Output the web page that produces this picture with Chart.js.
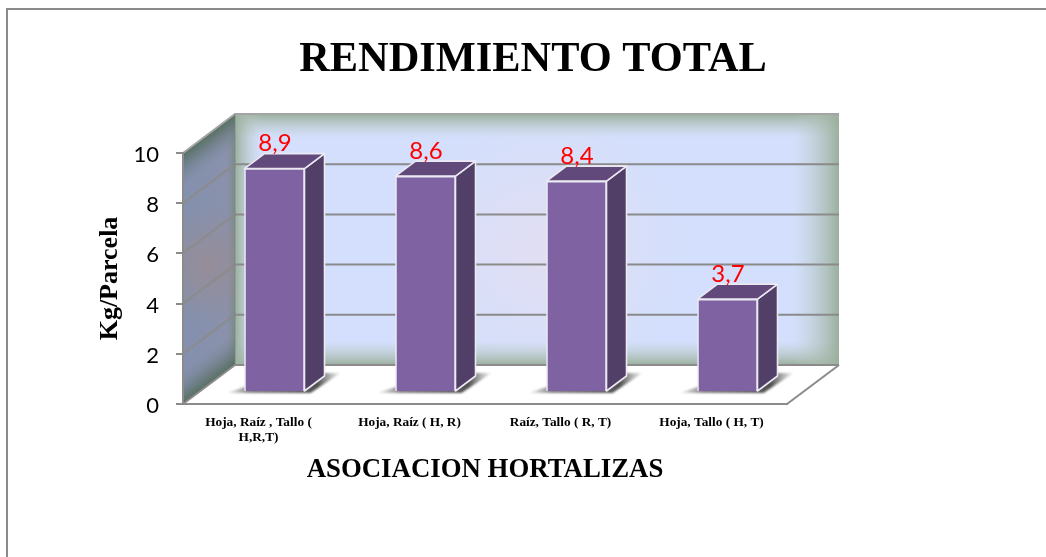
<!DOCTYPE html>
<html><head><meta charset="utf-8">
<style>html,body{margin:0;padding:0;background:#fff}canvas{display:block}</style>
<script src="https://cdn.jsdelivr.net/npm/chart.js@4/dist/chart.umd.js"></script>
</head><body>
<canvas id="c" width="1046" height="557"></canvas>
<script>
const categories = [['Hoja, Raíz , Tallo (', 'H,R,T)'], 'Hoja, Raíz ( H, R)', 'Raíz, Tallo ( R, T)', 'Hoja, Tallo ( H, T)'];
const values = [8.9, 8.6, 8.4, 3.7];
const yTicks = [0, 2, 4, 6, 8, 10];
const titleText = 'RENDIMIENTO TOTAL';
const xTitle = 'ASOCIACION HORTALIZAS';
const yTitle = 'Kg/Parcela';

const WALL = {dx: 52, dy: -39};
const BAR = {sx: 16, sy: -12, dx: 20, dy: -15};
const GRID = '#8b8b8b';

function poly(ctx, pts){ ctx.beginPath(); pts.forEach((p,i)=> i?ctx.lineTo(p[0],p[1]):ctx.moveTo(p[0],p[1])); ctx.closePath(); }
function lin(ctx,x0,y0,x1,y1,stops){ const g=ctx.createLinearGradient(x0,y0,x1,y1); stops.forEach(s=>g.addColorStop(s[0],s[1])); return g; }

const scene = {
  id:'scene',
  afterLayout(chart){
    const t = chart.titleBlock; t.left = 20; t.right = 1046;
  },
  beforeDraw(chart){
    const ctx = chart.ctx, a = chart.chartArea, ys = chart.scales.y;
    const L=a.left,R=a.right,T=a.top,B=a.bottom,dx=WALL.dx,dy=WALL.dy;
    ctx.save();
    ctx.fillStyle='#fff'; ctx.fillRect(0,0,1046,557);
    // page frame
    ctx.strokeStyle='#8a8a8a'; ctx.lineWidth=2;
    ctx.beginPath(); ctx.moveTo(7,557); ctx.lineTo(7,9); ctx.lineTo(1046,9); ctx.stroke();
    // back wall
    const bl=L+dx, br=R+dx, bt=T+dy, bb=B+dy;
    ctx.fillStyle='#d3dffc'; ctx.fillRect(bl,bt,br-bl,bb-bt);
    let rg=ctx.createRadialGradient(545,250,10,545,250,140);
    rg.addColorStop(0,'rgba(232,222,238,0.65)'); rg.addColorStop(1,'rgba(232,222,238,0)');
    ctx.fillStyle=rg; ctx.fillRect(bl,bt,br-bl,bb-bt);
    const edge='rgba(155,176,158,1)', clear='rgba(190,205,200,0)';
    ctx.fillStyle=lin(ctx,0,bt,0,bt+24,[[0,edge],[1,clear]]); ctx.fillRect(bl,bt,br-bl,24);
    ctx.fillStyle=lin(ctx,0,bb,0,bb-24,[[0,edge],[1,clear]]); ctx.fillRect(bl,bb-24,br-bl,24);
    ctx.fillStyle=lin(ctx,br,0,br-46,0,[[0,edge],[1,clear]]); ctx.fillRect(br-46,bt,46,bb-bt);
    ctx.fillStyle=lin(ctx,bl,0,bl+26,0,[[0,edge],[1,clear]]); ctx.fillRect(bl,bt,26,bb-bt);
    // side wall, painted in its own sheared coordinates
    ctx.save();
    poly(ctx,[[L,T],[bl,bt],[bl,bb],[L,B]]); ctx.clip();
    ctx.fillStyle=lin(ctx,L,0,bl,0,[[0,'#8390ae'],[0.85,'#8a91ab'],[1,'#7c8b8c']]); ctx.fillRect(L,bt,dx,B-bt);
    let rg2=ctx.createRadialGradient(207,265,4,207,265,58);
    rg2.addColorStop(0,'rgba(155,140,145,0.7)'); rg2.addColorStop(1,'rgba(155,140,145,0)');
    ctx.fillStyle=rg2; ctx.fillRect(L,bt,dx,B-bt);
    ctx.transform(1,dy/dx,0,1,L,T);
    const h=B-T;
    ctx.fillStyle=lin(ctx,0,0,0,34,[[0,'rgba(88,112,98,1)'],[0.35,'rgba(95,115,110,.6)'],[1,'rgba(120,135,150,0)']]);
    ctx.fillRect(0,0,dx,34);
    ctx.fillStyle=lin(ctx,0,h-34,0,h,[[0,'rgba(120,135,150,0)'],[0.65,'rgba(95,115,110,.6)'],[1,'rgba(88,112,98,1)']]);
    ctx.fillRect(0,h-34,dx,34);
    ctx.restore();
    // floor
    ctx.fillStyle='#fff'; poly(ctx,[[L,B],[bl,bb],[br,bb],[R,B]]); ctx.fill();
    // gridlines drawn from the library's y scale
    ctx.lineWidth=2;
    ys.ticks.forEach(t=>{
      const y=ys.getPixelForValue(t.value);
      ctx.strokeStyle = t.value===10 ? '#a4a4a4' : GRID;
      ctx.beginPath(); ctx.moveTo(L,y); ctx.lineTo(bl,y+dy); ctx.lineTo(br,y+dy); ctx.stroke();
    });
    ctx.strokeStyle=GRID;
    ctx.beginPath(); ctx.moveTo(R,B); ctx.lineTo(br,bb); ctx.stroke();
    ctx.beginPath(); ctx.moveTo(bl,bt); ctx.lineTo(bl,bb); ctx.strokeStyle='rgba(120,130,125,.7)'; ctx.lineWidth=1; ctx.stroke();
    ctx.restore();
  },
  beforeDatasetDraw(chart,args){
    const ctx=chart.ctx, els=args.meta.data;
    // floor shadows
    ctx.save();
    els.forEach(e=>{
      const x0=e.x+BAR.sx-e.width/2, x1=x0+e.width, b=e.base+BAR.sy;
      ctx.save();
      ctx.filter='blur(1.2px)';
      ctx.fillStyle=lin(ctx,x0-18,0,x1+36,0,[[0,'rgba(130,130,130,0.1)'],[0.2,'rgba(110,110,110,0.85)'],[0.8,'rgba(80,80,80,1)'],[1,'rgba(130,130,130,0.1)']]);
      poly(ctx,[[x0-18,b+2],[x1+6,b+2],[x1+36,b-18],[x1+14,b-18],[x1,b-6],[x0+6,b-6]]);
      ctx.fill();
      ctx.restore();
    });
    ctx.restore();
    ctx.save();
    ctx.translate(BAR.sx,BAR.sy);
    els.forEach(e=>{
      const x0=e.x-e.width/2,x1=x0+e.width,y=e.y,b=e.base,dx=BAR.dx,dy=BAR.dy;
      ctx.lineWidth=1.6; ctx.strokeStyle='#ebe9f2'; ctx.lineJoin='round';
      ctx.fillStyle='#513f68'; poly(ctx,[[x1,y],[x1+dx,y+dy],[x1+dx,b+dy],[x1,b]]); ctx.fill(); ctx.stroke();
      ctx.fillStyle='#614a7b'; poly(ctx,[[x0,y],[x0+dx,y+dy],[x1+dx,y+dy],[x1,y]]); ctx.fill(); ctx.stroke();
    });
  },
  afterDatasetDraw(chart,args){
    const ctx=chart.ctx;
    ctx.restore();
    ctx.save();
    ctx.fillStyle='#ff0000'; ctx.font='24px Lato'; ctx.textAlign='center'; ctx.textBaseline='middle';
    args.meta.data.forEach((e,i)=>{
      ctx.fillText(String(values[i]).replace('.',','), e.x+16.5, e.y+BAR.sy-25);
    });
    ctx.restore();
  }
};

new Chart(document.getElementById('c'),{
  type:'bar',
  data:{labels:categories,datasets:[{data:values,backgroundColor:'#7f62a1',borderColor:'#ebe9f2',borderWidth:1.6,barThickness:60}]},
  plugins:[scene],
  options:{
    responsive:false,animation:false,
    layout:{padding:{left:0,right:259,top:0,bottom:0}},
    plugins:{
      legend:{display:false},tooltip:{enabled:false},
      title:{display:true,text:titleText,color:'#000',align:'center',
        font:{family:'"Liberation Serif"',size:42.4,weight:'bold',lineHeight:1.2},
        padding:{top:34.6,bottom:67.5}}
    },
    scales:{
      x:{
        afterFit:s=>{s.height=153;},
        grid:{display:false,drawTicks:false},
        border:{display:true,color:GRID,width:2},
        ticks:{autoSkip:false,maxRotation:0,minRotation:0,padding:11,color:'#000',
          font:{family:'"Liberation Serif"',size:13.3,weight:'bold',lineHeight:1.13}},
        title:{display:true,text:xTitle,color:'#000',
          font:{family:'"Liberation Serif"',size:26.8,weight:'bold',lineHeight:1.2},
          padding:{top:0,bottom:71}}
      },
      y:{
        min:0,max:10,
        afterFit:s=>{s.width=183;},
        afterBuildTicks:s=>{s.ticks=yTicks.map(v=>({value:v}));},
        grid:{drawOnChartArea:false,drawTicks:true,tickLength:7,color:GRID,lineWidth:2},
        border:{display:true,color:GRID,width:2},
        ticks:{padding:17,labelOffset:2,color:'#000',font:{family:'Lato',size:22}},
        title:{display:true,text:yTitle,color:'#000',
          font:{family:'"Liberation Serif"',size:26,weight:'bold',lineHeight:1.2},
          padding:{top:95,bottom:0}}
      }
    }
  }
});
</script>
</body></html>
